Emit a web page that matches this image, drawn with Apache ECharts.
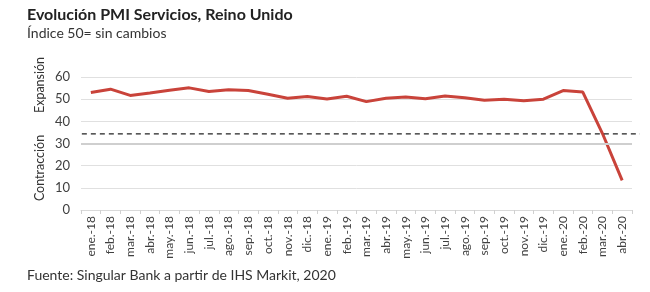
<!DOCTYPE html>
<html><head><meta charset="utf-8">
<script src="https://cdn.jsdelivr.net/npm/echarts@6/dist/echarts.min.js"></script>
<style>html,body{margin:0;padding:0;background:#fff}#c{width:650px;height:292px}</style>
</head><body><div id="c"></div>
<script>
const categories = ['ene.-18','feb.-18','mar.-18','abr.-18','may.-18','jun.-18','jul.-18','ago.-18','sep.-18','oct.-18','nov.-18','dic.-18','ene.-19','feb.-19','mar.-19','abr.-19','may.-19','jun.-19','jul.-19','ago.-19','sep.-19','oct.-19','nov.-19','dic.-19','ene.-20','feb.-20','mar.-20','abr.-20'];
const pmiValues = [53.0,54.5,51.7,52.8,54.0,55.1,53.5,54.3,53.9,52.2,50.4,51.2,50.1,51.3,48.9,50.4,51.0,50.2,51.4,50.6,49.5,50.0,49.3,50.0,53.9,53.2,34.5,13.4];
const yTicks = {min: 0, max: 60, interval: 10};
const dividerValue = 34.3;
const highlightValue = 30;
const FONT = 'Lato';

const chart = echarts.init(document.getElementById('c'), null, {renderer: 'canvas'});
chart.setOption({
  animation: false,
  backgroundColor: '#fff',
  grid: {left: 81, right: 18, top: 77, bottom: 82, containLabel: false},
  xAxis: {
    type: 'category', data: categories, boundaryGap: true,
    axisLine: {lineStyle: {color: '#d9d9d9', width: 1}},
    axisTick: {show: true, length: 4, lineStyle: {color: '#d0d0d0'}},
    axisLabel: {rotate: 90, color: '#404040', fontFamily: FONT, fontSize: 12, margin: 6, interval: 0}
  },
  yAxis: {
    type: 'value', min: yTicks.min, max: yTicks.max, interval: yTicks.interval,
    axisLine: {show: false}, axisTick: {show: false},
    axisLabel: {color: '#404040', fontFamily: FONT, fontSize: 13, margin: 11},
    splitLine: {lineStyle: {color: '#e0e0e0', width: 1}}
  },
  series: [{
    type: 'line', data: pmiValues, symbol: 'none',
    lineStyle: {color: '#c9433a', width: 3},
    markLine: {
      silent: true, symbol: 'none', label: {show: false},
      data: [{yAxis: highlightValue, lineStyle: {color: '#cfcfcf', width: 2, type: 'solid'}}]
    }
  }]
});

const yDiv = chart.convertToPixel({yAxisIndex: 0}, dividerValue);
const y60 = chart.convertToPixel({yAxisIndex: 0}, 60);
const y0 = chart.convertToPixel({yAxisIndex: 0}, 0);
const xStart = chart.convertToPixel({xAxisIndex: 0}, categories[0]) - 9;
chart.setOption({
  graphic: [
    {type: 'text', left: 27, top: 7, style: {text: 'Evolución PMI Servicios, Reino Unido', fontFamily: FONT, fontSize: 16, fontWeight: 'bold', fill: '#222'}},
    {type: 'text', left: 27, top: 26, style: {text: 'Índice 50= sin cambios', fontFamily: FONT, fontSize: 14, fill: '#333'}},
    {type: 'text', left: 27, top: 268, style: {text: 'Fuente: Singular Bank a partir de IHS Markit, 2020', fontFamily: FONT, fontSize: 14, fill: '#333'}},
    {type: 'line', shape: {x1: xStart, y1: yDiv, x2: 640, y2: yDiv}, style: {stroke: '#222', lineWidth: 1.3, lineDash: [5, 4]}, z: 10},
    {type: 'text', x: 40, y: y60 + 8, rotation: Math.PI / 2, style: {text: 'Expansión', fontFamily: FONT, fontSize: 12.5, fill: '#333', align: 'center', verticalAlign: 'middle'}},
    {type: 'text', x: 40, y: y0 - 42, rotation: Math.PI / 2, style: {text: 'Contracción', fontFamily: FONT, fontSize: 12.5, fill: '#333', align: 'center', verticalAlign: 'middle'}}
  ]
});
</script></body></html>
